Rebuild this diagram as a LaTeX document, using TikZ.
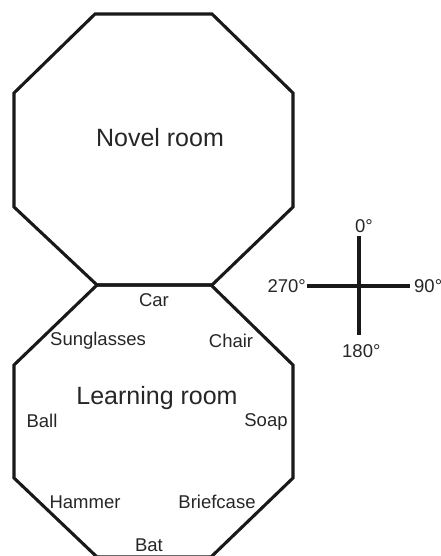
\documentclass[tikz,border=0pt]{standalone}
\usepackage{fontspec}
\setmainfont{Liberation Sans}
\begin{document}
\begin{tikzpicture}[x=1pt,y=-1pt,
  wall/.style={line width=3.1pt,black!90},
  axis/.style={line width=3.1pt,black!90},
  big/.style={font=\fontsize{25}{28}\selectfont,text=black!85,inner sep=0pt},
  item/.style={font=\fontsize{18.5}{21}\selectfont,text=black!85,inner sep=0pt},
  deg/.style={font=\fontsize{18.5}{21}\selectfont,text=black!85,inner sep=0pt}]
\useasboundingbox (0,0) rectangle (441,556);
\clip (0,0) rectangle (441,556);
% Novel room
\draw[wall] (95,14) -- (212,14) -- (293,93) -- (293,207) -- (212,285)
  -- (97,285) -- (14,207) -- (14,93) -- cycle;
% Learning room
\draw[wall] (97,285) -- (211,285) -- (293,365) -- (293,478) -- (211,557)
  -- (97,557) -- (14,478) -- (14,365) -- cycle;
\node[big] (novel) at (160,138) {Novel room};
\node[big] (learn) at (157,398) {Learning room};
\node[item] (car) at (154,300) {Car};
\node[item] (sung) at (98,341) {Sunglasses};
\node[item] (chair) at (231,341) {Chair};
\node[item] (ball) at (42,421) {Ball};
\node[item] (soap) at (266,422) {Soap};
\node[item] (hammer) at (85,502) {Hammer};
\node[item] (brief) at (217,502) {Briefcase};
\node[item] (bat) at (149,545) {Bat};
% compass
\coordinate (ctop) at (359,236);
\coordinate (cbot) at (359,335);
\coordinate (cleft) at (307,286);
\coordinate (cright) at (410,286);
\draw[axis] (ctop) -- (cbot);
\draw[axis] (cleft) -- (cright);
\node[deg,anchor=base west] (d0) at (355,232) {0°};
\node[deg,anchor=base west] (d180) at (342,357) {180°};
\node[deg,anchor=east] (d270) at ([xshift=-1pt]cleft) {270°};
\node[deg,anchor=west] (d90) at ([xshift=4pt]cright) {90°};
\end{tikzpicture}
\end{document}
